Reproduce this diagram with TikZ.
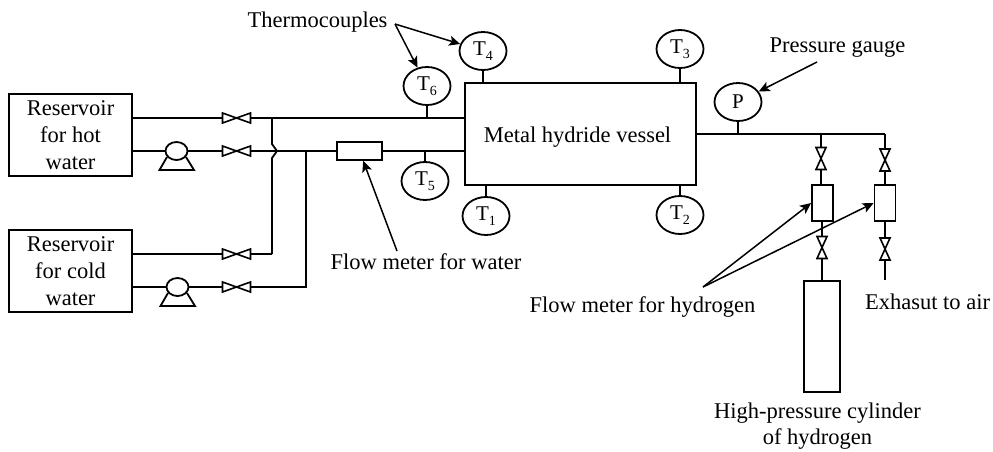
\documentclass[tikz,border=0pt]{standalone}
\usepackage{fontspec}
\setmainfont{Liberation Serif}
\usetikzlibrary{shapes.geometric,arrows.meta}
\newcommand{\Tlab}[1]{T\raisebox{-0.22em}{\fontsize{14}{14}\selectfont #1}}
\tikzset{
  pipe/.style={line width=1.8pt},
  boxnode/.style={draw,line width=1.8pt,inner sep=0pt,align=center,font=\fontsize{22.5}{27}\selectfont},
  gauge/.style={ellipse,draw,line width=1.8pt,inner sep=0pt,minimum width=47pt,minimum height=38pt,font=\fontsize{21}{22}\selectfont},
  lab/.style={inner sep=0pt,align=center,font=\fontsize{22.5}{26}\selectfont},
  baselab/.style={lab,anchor=base},
  vh/.style={inner sep=0pt,minimum width=29pt,minimum height=10pt},
  vv/.style={inner sep=0pt,minimum width=10pt,minimum height=23pt},
  callout/.style={line width=1.5pt,-{Stealth[length=11pt,width=10pt,inset=2.5pt]}},
  valveh/.pic={\draw[line width=1.6pt,line join=miter] (-14,-5)--(14,5)--(14,-5)--(-14,5)--cycle;},
  valvev/.pic={\draw[line width=1.6pt,line join=miter] (-5,-11)--(5,11)--(-5,11)--(5,-11)--cycle;},
  pumpshape/.pic={\draw[line width=1.8pt] (0,0) ellipse[x radius=11,y radius=9];
    \draw[line width=1.8pt] (-9.5,6)--(-17,19)--(17.5,19)--(9.5,6);}
}
\begin{document}
\begin{tikzpicture}[x=1pt,y=-1pt]
\useasboundingbox (0,0) rectangle (993,451);
% reservoirs
\node[boxnode,minimum width=122.5pt,minimum height=82pt] (rh) at (70.5,135) {Reservoir\\for hot\\water};
\node[boxnode,minimum width=122.5pt,minimum height=82pt] (rc) at (70.5,271) {Reservoir\\for cold\\water};
% vessel
\node[boxnode,minimum width=231pt,minimum height=102pt] (V) at (580.5,134) {};
\node[baselab] (lv) at (577.5,142) {Metal hydride vessel};
% valves
\node[vh] (v1) at (236.5,118) {};
\node[vh] (v2) at (236.5,151) {};
\node[vh] (v3) at (236.5,254) {};
\node[vh] (v4) at (236.5,287) {};
\foreach \n in {v1,v2,v3,v4} \pic at (\n.center) {valveh};
\node[vv] (v5) at (821,158.5) {};
\node[vv] (v6) at (822,247.5) {};
\node[vv] (v7) at (885,160) {};
\node[vv] (v8) at (885,249) {};
\foreach \n in {v5,v6,v7,v8} \pic at (\n.center) {valvev};
% pumps
\coordinate (p1) at (176.5,151);
\coordinate (p2) at (177.5,287);
\pic at (p1) {pumpshape};
\pic at (p2) {pumpshape};
% meters
\node[boxnode,minimum width=45pt,minimum height=18pt] (mw) at (359.5,151) {};
\node[boxnode,minimum width=21pt,minimum height=36pt] (m1) at (822.5,203) {};
\node[boxnode,minimum width=21pt,minimum height=36pt] (m2) at (885,203) {};
% cylinder
\node[boxnode,minimum width=35.5pt,minimum height=111pt] (cyl) at (822,336.5) {};
% gauges
\node[gauge] (T4) at (483,51) {\Tlab{4}};
\node[gauge] (T3) at (680,49) {\Tlab{3}};
\node[gauge] (T6) at (427,86) {\Tlab{6}};
\node[gauge] (T5) at (425,181) {\Tlab{5}};
\node[gauge] (T1) at (486,216) {\Tlab{1}};
\node[gauge] (T2) at (680,215) {\Tlab{2}};
\node[gauge] (P) at (738,102) {P};
% junction coordinates
\coordinate (jt) at (272,118);
\coordinate (jb) at (306,151);
\coordinate (jc1) at (272,254);
\coordinate (jc2) at (306,287);
\coordinate (ju) at (272,144);
\coordinate (jm) at (277,151);
\coordinate (jd) at (272,158);
\coordinate (vt) at (465,118);
\coordinate (vb) at (465,151);
\coordinate (g0) at (696,134);
\coordinate (g1) at (821,134);
\coordinate (g2) at (885,134);
\coordinate (ex) at (885,280);
% pipes: hot and cold water
\draw[pipe] (rh.east |- v1) -- (v1.west);
\draw[pipe] (v1.east) -- (vt);
\draw[pipe] (rh.east |- p1) -- ([xshift=-11pt]p1);
\draw[pipe] ([xshift=11pt]p1) -- (v2.west);
\draw[pipe] (v2.east) -- (mw.west);
\draw[pipe] (mw.east) -- (vb);
\draw[pipe] (rc.east |- v3) -- (v3.west);
\draw[pipe] (v3.east) -- (jc1);
\draw[pipe] (rc.east |- p2) -- ([xshift=-11pt]p2);
\draw[pipe] ([xshift=11pt]p2) -- (v4.west);
\draw[pipe] (v4.east) -- (jc2) -- (jb);
\draw[pipe] (jt) -- (ju) -- (jm) -- (jd) -- (jc1);
% stems
\draw[pipe] (T4.south) -- (T4 |- V.north);
\draw[pipe] (T3.south) -- (T3 |- V.north);
\draw[pipe] (T1.north) -- (T1 |- V.south);
\draw[pipe] (T2.north) -- (T2 |- V.south);
\draw[pipe] (T6.south) -- (T6 |- vt);
\draw[pipe] (T5.north) -- (T5 |- vb);
\draw[pipe] (P.south) -- (P |- g0);
% hydrogen
\draw[pipe] (g0) -- (g1) -- (g2);
\draw[pipe] (g1) -- (v5.north);
\draw[pipe] (v5.south) -- (v5 |- m1.north);
\draw[pipe] (v6 |- m1.south) -- (v6.north);
\draw[pipe] (v6.south) -- (v6 |- cyl.north);
\draw[pipe] (g2) -- (v7.north);
\draw[pipe] (v7.south) -- (m2.north);
\draw[pipe] (m2.south) -- (v8.north);
\draw[pipe] (v8.south) -- (ex);
% labels
\node[baselab] (lt) at (317.5,27.5) {Thermocouples};
\node[baselab] (lp) at (837.5,52) {Pressure gauge};
\node[baselab] (lw) at (426,269) {Flow meter for water};
\node[baselab] (lh) at (642.5,312) {Flow meter for hydrogen};
\node[baselab] (le) at (927.5,309) {Exhasut to air};
\node[lab] (lc) at (817.5,426.5) {High-pressure cylinder\\of hydrogen};
% callouts
\coordinate (ct) at (395,24);
\coordinate (cp) at (817,62);
\coordinate (cw) at (397,251);
\coordinate (ch) at (703,287);
\draw[callout] (ct) -- (T4);
\draw[callout] (ct) -- (T6);
\draw[callout] (cp) -- (P);
\draw[callout] (cw) -- (mw);
\draw[callout] (ch) -- (m1.west);
\draw[callout] (ch) -- (m2.west);
\end{tikzpicture}
\end{document}
